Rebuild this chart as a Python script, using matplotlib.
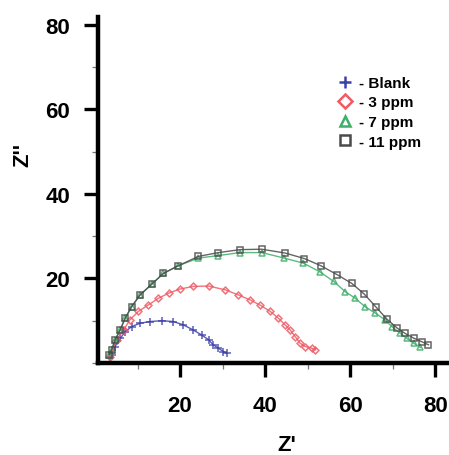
import matplotlib
matplotlib.use("Agg")
import matplotlib.pyplot as plt
from matplotlib.lines import Line2D
from matplotlib.ticker import MultipleLocator

plt.rcParams['font.family'] = ['Liberation Sans', 'DejaVu Sans']
plt.rcParams['font.weight'] = 'bold'

# Nyquist data: Z' (real) and Z'' (imaginary)
blank_x = [3.5, 3.9, 4.7, 5.9, 7.1, 8.6, 10.6, 12.9, 15.7, 18.4, 20.8, 23.1, 25.1, 26.7, 27.8, 29.0, 30.2, 31.0]
blank_y = [1.5, 1.9, 3.9, 5.8, 7.4, 8.6, 9.4, 9.8, 10.0, 9.8, 9.0, 7.8, 6.6, 5.5, 4.3, 3.5, 2.7, 2.3]

ppm3_x = [3.5, 5.1, 6.7, 8.2, 10.2, 12.5, 14.9, 17.3, 20.0, 23.1, 26.7, 30.6, 33.7, 36.5, 38.8, 41.2,
          43.1, 44.7, 45.9, 47.1, 48.2, 49.4, 51.0, 51.8]
ppm3_y = [1.5, 5.5, 7.8, 10.2, 12.2, 13.7, 15.3, 16.5, 17.5, 18.1, 18.2, 17.3, 16.1, 14.9, 13.7, 12.2,
          10.6, 9.0, 7.8, 6.2, 4.7, 3.9, 3.5, 3.1]

ppm7_x = [3.3, 3.9, 4.7, 5.9, 7.1, 8.6, 10.6, 13.3, 16.1, 19.6, 24.3, 29.0, 34.1, 39.2, 44.5, 49.0,
          52.8, 56.1, 58.8, 61.2, 63.5, 65.9, 68.2, 69.8, 71.8, 73.3, 74.9, 76.5]
ppm7_y = [2.0, 3.1, 5.4, 7.8, 10.6, 13.3, 16.1, 18.6, 21.2, 23.0, 24.8, 25.4, 26.1, 26.1, 24.8, 23.6,
          21.6, 19.3, 16.9, 15.3, 13.3, 11.8, 10.2, 8.6, 7.0, 5.8, 4.7, 3.7]

ppm11_x = [3.3, 3.9, 4.7, 5.9, 7.1, 8.6, 10.6, 13.3, 16.1, 19.6, 24.3, 29.0, 34.1, 39.2, 44.7, 49.2,
           53.1, 56.9, 60.4, 63.3, 66.0, 68.6, 71.0, 72.9, 74.9, 76.9, 78.4]
ppm11_y = [2.0, 3.1, 5.4, 7.8, 10.6, 13.3, 16.1, 18.6, 21.2, 23.0, 25.2, 26.1, 26.8, 26.9, 26.0, 24.7,
           23.0, 20.9, 18.8, 16.3, 13.3, 10.4, 8.3, 7.0, 5.9, 5.0, 4.3]

labels = ['- Blank', '- 3 ppm', '- 7 ppm', '- 11 ppm']
colors = ['#3c40a8', '#ef5a64', '#3fae6a', '#4a4a4a']
markers = ['+', 'D', '^', 's']

fig = plt.figure(figsize=(4.49, 4.56), dpi=100)
ax = fig.add_axes([98 / 449, 92 / 456, 350 / 449, 346 / 456])

series = [(blank_x, blank_y), (ppm3_x, ppm3_y), (ppm7_x, ppm7_y), (ppm11_x, ppm11_y)]
sizes = [5.5, 3.5, 4.3, 4.3]
for (xs, ys), c, m, s in zip(series, colors, markers, sizes):
    ax.plot(xs, ys, color=c, lw=1.0, alpha=0.85, marker=m, ms=s,
            mfc='none', mec=c, mew=1.1)

ax.set_xlim(0.7, 83)
ax.set_ylim(0, 81.8)

for side in ('top', 'right'):
    ax.spines[side].set_visible(False)
for side in ('left', 'bottom'):
    ax.spines[side].set_linewidth(3.2)

ax.xaxis.set_minor_locator(MultipleLocator(10))
ax.yaxis.set_minor_locator(MultipleLocator(10))
ax.set_xticks([20, 40, 60, 80])
ax.set_yticks([20, 40, 60, 80])
ax.tick_params(which='major', length=10, width=2.4, labelsize=16)
ax.tick_params(axis='x', which='major', pad=13)
ax.tick_params(axis='y', which='major', pad=10)
ax.tick_params(which='minor', length=4, width=0.9, color='#777777')
for lab in ax.get_xticklabels() + ax.get_yticklabels():
    lab.set_fontweight('bold')

fig.text(287 / 449, 1 - 446 / 456, "Z'", ha='center', va='center', fontsize=16, fontweight='bold')
fig.text(23 / 449, 1 - 155 / 456, "Z''", ha='center', va='center', fontsize=16,
         fontweight='bold', rotation=90)

handles = [Line2D([], [], ls='none', marker=m, ms=7 if m != '+' else 9, mfc='none', mec=c, mew=1.8)
           for c, m in zip(colors, markers)]
ax.legend(handles, labels, loc='upper left', bbox_to_anchor=(338 / 449, 1 - 77 / 456),
          bbox_transform=fig.transFigure, frameon=False, prop={'size': 11, 'weight': 'bold'},
          handlelength=0.9, handletextpad=0.5, labelspacing=0.36, borderaxespad=0, borderpad=0)

fig.savefig('out.png', dpi=100)
